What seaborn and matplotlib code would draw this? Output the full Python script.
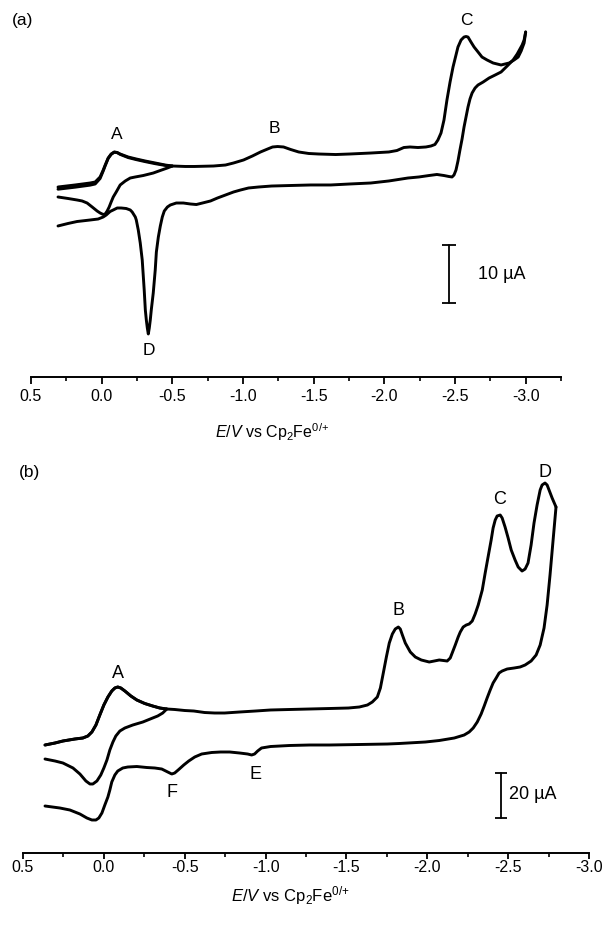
import matplotlib
matplotlib.use("Agg")
import matplotlib.pyplot as plt
from matplotlib.ticker import MultipleLocator
import seaborn as sns

# ---------------- Panel (a) data: E (V vs Cp2Fe0/+), I (µA, arbitrary offset) ----------------
a_fwd_E = [0.309, 0.188, 0.082, 0.046, 0.011, -0.011, -0.025, -0.046, -0.067, -0.089, -0.110, -0.131,
           -0.188, -0.245, -0.309, -0.379, -0.450, -0.500, -0.592, -0.656, -0.791, -0.876, -0.933,
           -1.004, -1.067, -1.124, -1.174, -1.209, -1.245, -1.287, -1.337, -1.394, -1.465, -1.535,
           -1.656, -1.755, -1.904, -2.032, -2.089, -2.138, -2.181, -2.238, -2.294, -2.330, -2.358,
           -2.379, -2.401, -2.422, -2.443, -2.465, -2.486, -2.507, -2.521, -2.543, -2.564, -2.578,
           -2.592, -2.613, -2.635, -2.663, -2.691, -2.727, -2.770, -2.826, -2.883, -2.918, -2.947,
           -2.968, -2.989, -3.000]
a_fwd_I = [32.93, 33.28, 33.62, 33.79, 34.66, 35.86, 36.72, 37.93, 38.62, 38.97, 38.88, 38.62,
           38.10, 37.76, 37.41, 37.07, 36.72, 36.55, 36.47, 36.47, 36.55, 36.72, 37.07,
           37.59, 38.28, 38.97, 39.48, 39.83, 39.91, 39.83, 39.40, 38.97, 38.71, 38.62,
           38.53, 38.62, 38.79, 38.97, 39.22, 39.74, 39.83, 39.74, 39.83, 40.00, 40.26,
           41.03, 42.24, 44.48, 47.93, 51.03, 53.62, 55.69, 57.07, 58.28, 58.79, 58.88,
           58.79, 57.93, 57.07, 56.21, 55.34, 54.83, 54.31, 53.97, 54.31, 54.83, 55.34,
           56.38, 57.76, 59.66]

a_rev_E = [-3.000, -2.989, -2.975, -2.940, -2.911, -2.869, -2.826, -2.784, -2.741, -2.699, -2.663,
           -2.642, -2.621, -2.606, -2.592, -2.578, -2.564, -2.550, -2.535, -2.521, -2.507, -2.493,
           -2.479, -2.457, -2.422, -2.372, -2.316, -2.245, -2.167, -2.032, -1.904, -1.755, -1.621,
           -1.479, -1.337, -1.202, -1.110, -1.039, -0.982, -0.933, -0.876, -0.819, -0.770, -0.713,
           -0.670, -0.628, -0.578, -0.528, -0.486, -0.465, -0.443, -0.429, -0.415, -0.401, -0.387,
           -0.379, -0.365, -0.351, -0.344, -0.337, -0.330, -0.323, -0.316, -0.309, -0.301, -0.287,
           -0.273, -0.259, -0.245, -0.238, -0.216, -0.202, -0.174, -0.138, -0.110, -0.082, -0.060,
           -0.032, -0.011, 0.025, 0.082, 0.174, 0.238, 0.309]
a_rev_I = [59.66, 58.28, 57.41, 55.86, 54.83, 53.79, 52.76, 52.24, 51.72, 51.03, 50.52,
           50.00, 49.14, 48.10, 46.72, 45.00, 43.28, 41.21, 39.31, 37.41, 35.86, 35.00,
           34.66, 34.74, 34.91, 35.09, 34.91, 34.66, 34.48, 33.97, 33.62, 33.45, 33.28,
           33.28, 33.19, 33.10, 32.93, 32.76, 32.41, 32.07, 31.55, 31.03, 30.52, 30.17,
           29.91, 30.00, 30.17, 30.17, 29.83, 29.48, 28.79, 27.76, 26.21, 24.31, 21.72,
           18.62, 14.66, 11.72, 10.00, 8.62, 7.59, 8.62, 10.00, 11.72, 15.17, 20.34,
           23.28, 25.52, 27.24, 27.76, 28.62, 28.97, 29.22, 29.31, 29.31, 28.97, 28.71,
           28.10, 27.76, 27.41, 27.24, 26.98, 26.64, 26.21]

# first (small) cycle, switched at -0.5 V
a_small_fwd_E = [0.309, 0.188, 0.082, 0.046, 0.011, -0.011, -0.025, -0.046, -0.067, -0.089, -0.110,
                 -0.131, -0.188, -0.245, -0.309, -0.379, -0.450, -0.500]
a_small_fwd_I = [32.55, 32.90, 33.25, 33.45, 34.40, 35.70, 36.60, 37.85, 38.55, 38.93, 38.85,
                 38.55, 38.00, 37.65, 37.30, 36.95, 36.65, 36.55]
a_small_rev_E = [-0.500, -0.465, -0.415, -0.365, -0.294, -0.238, -0.202, -0.167, -0.131, -0.103,
                 -0.082, -0.067, -0.053, -0.039, -0.025, -0.011, 0.011, 0.032, 0.067, 0.103,
                 0.138, 0.174, 0.238, 0.309]
a_small_rev_I = [36.55, 36.21, 35.78, 35.34, 34.91, 34.66, 34.48, 33.97, 33.28, 32.07,
                 31.21, 30.34, 29.48, 28.79, 28.28, 28.19, 28.45, 28.79, 29.48, 30.17,
                 30.52, 30.69, 30.95, 31.21]

a_peak_labels = ["A", "B", "C", "D"]
a_peak_E = [-0.110, -1.223, -2.578, -0.337]
a_peak_I = [41.9, 43.1, 61.7, 4.8]

# ---------------- Panel (b) data ----------------
b_fwd_E = [0.364, 0.302, 0.253, 0.179, 0.130, 0.099, 0.074, 0.049, 0.025, 0.000, -0.025, -0.049,
           -0.068, -0.086, -0.105, -0.130, -0.167, -0.204, -0.253, -0.302, -0.346, -0.389, -0.438,
           -0.500, -0.556, -0.623, -0.685, -0.747, -0.840, -0.938, -1.031, -1.148, -1.272, -1.395,
           -1.512, -1.580, -1.630, -1.660, -1.691, -1.710, -1.728, -1.747, -1.765, -1.784, -1.802,
           -1.821, -1.833, -1.846, -1.864, -1.895, -1.926, -1.963, -2.012, -2.043, -2.074, -2.099,
           -2.123, -2.142, -2.154, -2.173, -2.191, -2.204, -2.222, -2.241, -2.259, -2.278, -2.296,
           -2.315, -2.340, -2.358, -2.377, -2.395, -2.407, -2.420, -2.432, -2.451, -2.463, -2.481,
           -2.500, -2.519, -2.543, -2.562, -2.586, -2.605, -2.623, -2.642, -2.660, -2.679, -2.698,
           -2.710, -2.728, -2.741, -2.753, -2.772, -2.796]
b_fwd_I = [48.00, 48.89, 49.78, 50.67, 51.11, 52.00, 53.78, 56.89, 61.33, 65.78, 69.33, 72.00,
           73.33, 73.78, 73.33, 72.00, 69.78, 68.00, 66.44, 65.33, 64.44, 64.00, 63.78,
           63.33, 63.11, 62.44, 62.22, 62.22, 62.67, 63.11, 63.56, 63.78, 64.00, 64.22,
           64.44, 64.89, 65.78, 67.11, 69.33, 73.33, 80.00, 87.11, 93.33, 97.33, 99.56,
           100.44, 99.56, 96.89, 93.33, 89.33, 87.11, 85.78, 84.89, 85.33, 85.78, 85.56,
           85.33, 86.67, 88.89, 92.44, 96.00, 98.22, 100.44, 101.33, 101.78, 103.11, 106.22,
           110.22, 116.89, 124.44, 132.00, 139.11, 144.44, 148.00, 149.78, 150.22, 148.89, 144.89,
           140.00, 134.67, 130.22, 127.11, 125.33, 126.22, 128.89, 136.89, 146.67, 154.67, 161.33,
           163.56, 164.44, 163.56, 161.33, 157.78, 153.78]

b_rev_E = [-2.796, -2.778, -2.759, -2.741, -2.722, -2.698, -2.673, -2.642, -2.605, -2.574, -2.537,
           -2.494, -2.463, -2.444, -2.426, -2.407, -2.389, -2.370, -2.352, -2.333, -2.309, -2.284,
           -2.259, -2.228, -2.167, -2.074, -1.988, -1.827, -1.753, -1.580, -1.395, -1.272, -1.148,
           -1.031, -0.975, -0.951, -0.932, -0.914, -0.889, -0.840, -0.778, -0.722, -0.667, -0.605,
           -0.562, -0.525, -0.494, -0.463, -0.438, -0.420, -0.395, -0.358, -0.315, -0.265, -0.204,
           -0.148, -0.117, -0.086, -0.068, -0.049, -0.037, -0.025, -0.006, 0.012, 0.031, 0.049,
           0.074, 0.105, 0.148, 0.210, 0.272, 0.364]
b_rev_I = [153.78, 139.11, 123.56, 110.22, 100.00, 92.44, 88.00, 85.33, 83.56, 82.67, 82.22,
           81.78, 80.89, 80.00, 77.78, 75.56, 72.44, 68.89, 65.33, 61.78, 58.22, 55.56,
           53.78, 52.44, 51.11, 50.00, 49.33, 48.67, 48.44, 48.22, 48.00, 48.00, 47.78,
           47.33, 46.67, 45.33, 44.00, 43.56, 44.00, 44.44, 44.89, 44.89, 44.67, 44.00,
           42.67, 40.89, 39.11, 37.11, 35.56, 35.11, 36.00, 37.33, 37.78, 38.00, 38.44,
           38.22, 37.78, 36.44, 34.67, 31.56, 28.00, 24.89, 21.33, 17.78, 15.56, 14.67,
           14.67, 15.56, 17.33, 19.11, 20.00, 20.89]

# first (small) cycle, switched at about -0.39 V
b_small_rev_E = [-0.389, -0.364, -0.333, -0.302, -0.241, -0.179, -0.130, -0.099, -0.074, -0.056,
                 -0.037, -0.019, 0.000, 0.019, 0.043, 0.068, 0.086, 0.111, 0.148, 0.191, 0.253,
                 0.302, 0.364]
b_small_rev_I = [64.00, 62.22, 60.89, 60.00, 58.22, 56.89, 55.56, 54.22, 52.00, 49.33,
                 45.78, 41.33, 37.78, 34.67, 32.00, 30.67, 30.67, 32.00, 35.11, 37.78, 40.00,
                 40.89, 41.78]

b_peak_labels = ["A", "B", "C", "D", "E", "F"]
b_peak_E = [-0.086, -1.821, -2.444, -2.728, -0.938, -0.420]
b_peak_I = [80.0, 108.0, 156.9, 169.3, 34.7, 27.1]

# scale bars
a_bar_E, a_bar_lo, a_bar_hi, a_bar_text = -2.457, 12.9, 22.9, "10 µA"
b_bar_E, b_bar_lo, b_bar_hi, b_bar_text = -2.457, 15.6, 35.6, "20 µA"

xlabel = r"$\it{E/V}$ vs Cp$_2$Fe$^{0/{+}}$"

# ---------------- styling ----------------
sns.set_theme(style="white")
plt.rcParams['font.family'] = ['Liberation Sans', 'DejaVu Sans']
plt.rcParams['mathtext.fontset'] = 'custom'
plt.rcParams['mathtext.rm'] = 'Liberation Sans'
plt.rcParams['mathtext.it'] = 'Liberation Sans:italic'
plt.rcParams['mathtext.bf'] = 'Liberation Sans:bold'

W, H = 605, 927
fig = plt.figure(figsize=(W / 100, H / 100), dpi=100)
fig.patch.set_facecolor("white")

ax_a = fig.add_axes([31 / W, 550 / H, 530 / W, 367 / H])
ax_b = fig.add_axes([23 / W, 74 / H, 566 / W, 393 / H])

LW = 2.1


def draw(ax, E, I):
    sns.lineplot(x=E, y=I, sort=False, estimator=None, ax=ax, color="black",
                 linewidth=LW, solid_joinstyle="round", solid_capstyle="round")


for E, I in [(a_small_fwd_E, a_small_fwd_I), (a_small_rev_E, a_small_rev_I),
             (a_fwd_E, a_fwd_I), (a_rev_E, a_rev_I)]:
    draw(ax_a, E, I)
for E, I in [(b_fwd_E[:22], b_fwd_I[:22]), (b_small_rev_E, b_small_rev_I),
             (b_fwd_E, b_fwd_I), (b_rev_E, b_rev_I)]:
    draw(ax_b, E, I)

ax_a.set_xlim(0.5, -3.25)
ax_a.set_ylim(0.17, 63.45)
ax_b.set_xlim(0.5, -3.0)
ax_b.set_ylim(0.0, 174.67)

for ax, maj_len, min_len, pad in [(ax_a, 5, 3, 3.5), (ax_b, 4.5, 3, 0.5)]:
    ax.set_facecolor("white")
    for s in ["top", "left", "right"]:
        ax.spines[s].set_visible(False)
    ax.spines["bottom"].set_linewidth(1.4)
    ax.spines["bottom"].set_color("black")
    ax.xaxis.set_major_locator(MultipleLocator(0.5))
    ax.xaxis.set_minor_locator(MultipleLocator(0.25))
    ax.xaxis.set_major_formatter(matplotlib.ticker.FuncFormatter(lambda v, p: f"{v:.1f}"))
    ax.tick_params(axis="x", which="major", direction="out", length=maj_len, width=1.3,
                   color="black", labelsize=11.5, labelcolor="black", pad=pad, bottom=True)
    ax.tick_params(axis="x", which="minor", direction="out", length=min_len, width=1.2,
                   color="black", bottom=True)
    ax.set_yticks([])
    ax.set_ylabel("")
    ax.grid(False)

ax_a.set_xlabel(xlabel, fontsize=11.5, color="black")
ax_a.xaxis.label.set_va("center")
ax_a.xaxis.set_label_coords((272 - 31) / 530, -(432 - 377) / 367)
ax_b.set_xlabel(xlabel, fontsize=12, color="black")
ax_b.xaxis.label.set_va("center")
ax_b.xaxis.set_label_coords((290 - 23) / 566, -(896 - 853) / 393)

for lab, e, i in zip(a_peak_labels, a_peak_E, a_peak_I):
    ax_a.text(e, i, lab, ha="center", va="center", fontsize=12.5, color="black")
for lab, e, i in zip(b_peak_labels, b_peak_E, b_peak_I):
    ax_b.text(e, i, lab, ha="center", va="center", fontsize=13, color="black")

# scale bars
ax_a.plot([a_bar_E, a_bar_E], [a_bar_lo, a_bar_hi], color="black", lw=1.3,
          marker="_", markersize=10, markeredgewidth=1.3)
ax_a.text(-2.663, (a_bar_lo + a_bar_hi) / 2, a_bar_text, ha="left", va="center",
          fontsize=13, color="black")
ax_b.plot([b_bar_E, b_bar_E], [b_bar_lo, b_bar_hi], color="black", lw=1.3,
          marker="_", markersize=8, markeredgewidth=1.3)
ax_b.text(-2.506, 26.2, b_bar_text, ha="left", va="center", fontsize=13, color="black")

fig.text(23 / W, 1 - 20 / H, "(a)", ha="center", va="center", fontsize=12.5, color="black")
fig.text(29 / W, 1 - 473 / H, "(b)", ha="center", va="center", fontsize=12.5, color="black")

fig.savefig("out.png", dpi=100, facecolor="white")
